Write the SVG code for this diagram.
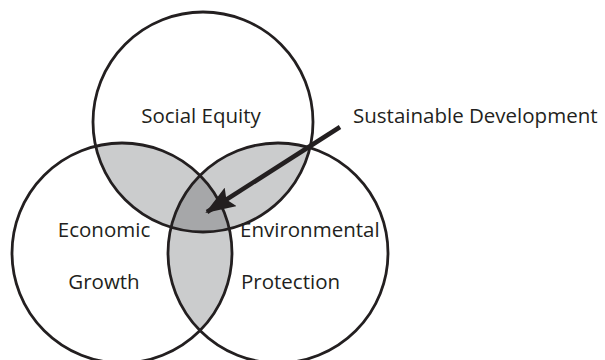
<svg xmlns="http://www.w3.org/2000/svg" width="605" height="360" viewBox="0 0 605 360">
  <style>
    .ring { fill: none; stroke: #231f20; stroke-width: 2.8; }
    .pair { fill: #cbcccd; }
    .triple { fill: #a6a7a9; }
    .label { font-family: "Open Sans", "Liberation Sans", sans-serif; font-size: 20.5px; fill: #231f20; }
    .arrow { stroke: #231f20; stroke-width: 4.5; fill: none; }
  </style>
  <defs>
    <circle id="cTop" cx="203" cy="122" r="110"/>
    <circle id="cLeft" cx="122" cy="253" r="110"/>
    <circle id="cRight" cx="278" cy="253" r="110"/>
    <clipPath id="clipTop"><use href="#cTop"/></clipPath>
    <clipPath id="clipLeft"><use href="#cLeft"/></clipPath>
    <clipPath id="clipRight"><use href="#cRight"/></clipPath>
    <marker id="head" viewBox="0 0 30 22" refX="28" refY="11" markerWidth="30" markerHeight="22" markerUnits="userSpaceOnUse" orient="auto">
      <path d="M0,0 L30,11 L0,22 L5,11 Z" fill="#231f20"/>
    </marker>
  </defs>

  <g id="shading">
    <g clip-path="url(#clipTop)"><use href="#cLeft" class="pair"/><use href="#cRight" class="pair"/></g>
    <g clip-path="url(#clipLeft)"><use href="#cRight" class="pair"/></g>
    <g clip-path="url(#clipTop)"><g clip-path="url(#clipLeft)"><use href="#cRight" class="triple"/></g></g>
  </g>

  <g id="social-equity">
    <use href="#cTop" class="ring"/>
    <text class="label" x="201" y="123" text-anchor="middle">Social Equity</text>
  </g>
  <g id="economic-growth">
    <use href="#cLeft" class="ring"/>
    <text class="label" x="104" y="237" text-anchor="middle">Economic</text>
    <text class="label" x="104" y="289" text-anchor="middle">Growth</text>
  </g>
  <g id="environmental-protection">
    <use href="#cRight" class="ring"/>
    <text class="label" x="240" y="237">Environmental</text>
    <text class="label" x="241" y="289">Protection</text>
  </g>
  <g id="sustainable-development">
    <text class="label" x="353" y="123">Sustainable Development</text>
  </g>

  <g id="connectors">
    <line class="arrow" x1="340" y1="127" x2="207" y2="212" marker-end="url(#head)"/>
  </g>
</svg>
